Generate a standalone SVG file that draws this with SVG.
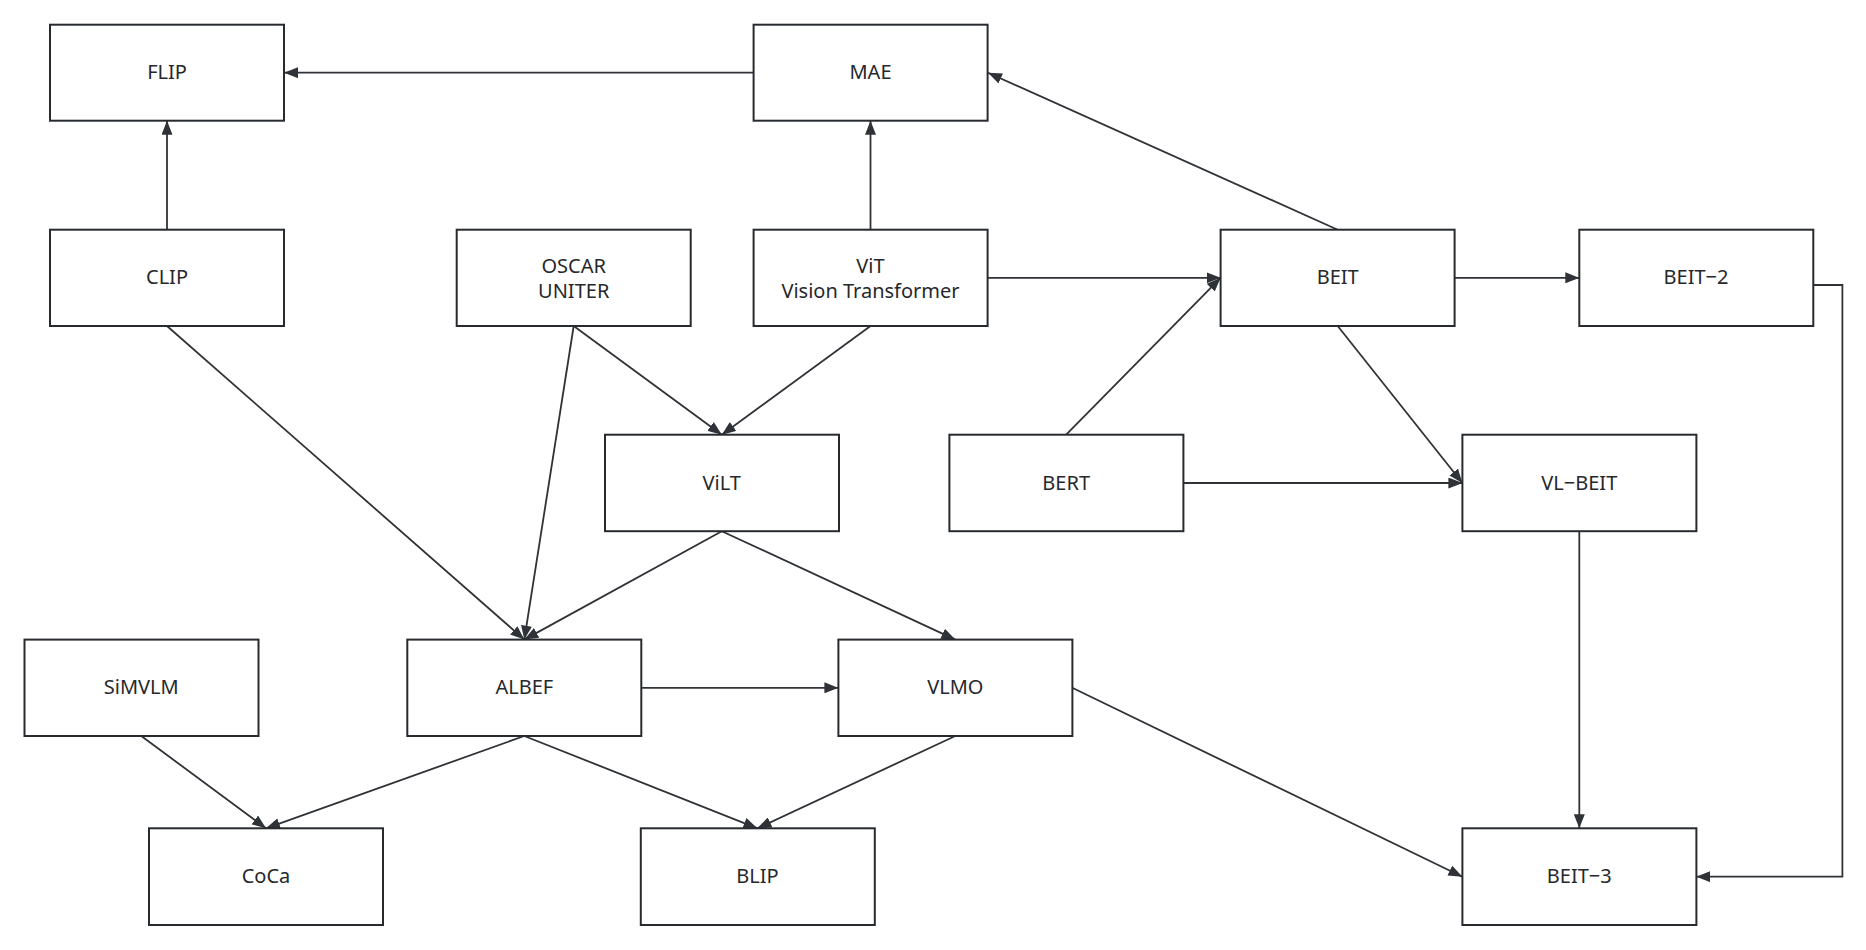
<svg xmlns="http://www.w3.org/2000/svg" width="1866" height="950" viewBox="0 0 1866 950">
  <defs>
    <marker id="arrow" viewBox="0 0 14 11" markerWidth="14" markerHeight="11" refX="14" refY="5.5" orient="auto" markerUnits="userSpaceOnUse">
      <path d="M0,0 L14,5.5 L0,11 z" fill="#2f3236"/>
    </marker>
    <style>
      .box { fill: #ffffff; stroke: #272b30; stroke-width: 2; }
      .label { font-family: "Noto Sans", "Liberation Sans", sans-serif; font-size: 20px; fill: #26282b; text-anchor: middle; }
      .edge { fill: none; stroke: #2f3236; stroke-width: 1.8; marker-end: url(#arrow); }
    </style>
  </defs>
  <rect width="1866" height="950" fill="#ffffff"/>

  <!-- connectors -->
  <g id="connectors">
    <line class="edge" x1="753.6" y1="72.7" x2="284" y2="72.7"/>
    <line class="edge" x1="167" y1="229.7" x2="167" y2="120.7"/>
    <line class="edge" x1="870.5" y1="229.7" x2="870.5" y2="120.7"/>
    <line class="edge" x1="1337.7" y1="229.7" x2="988" y2="72.7"/>
    <line class="edge" x1="987.3" y1="277.8" x2="1220.6" y2="277.8"/>
    <line class="edge" x1="1454.8" y1="277.8" x2="1579.3" y2="277.8"/>
    <line class="edge" x1="1066.2" y1="434.7" x2="1220.6" y2="277.8"/>
    <line class="edge" x1="1337.7" y1="326" x2="1462.4" y2="483"/>
    <line class="edge" x1="1183" y1="483" x2="1462.4" y2="483"/>
    <line class="edge" x1="1579.3" y1="531.2" x2="1579.3" y2="828.3"/>
    <polyline class="edge" points="1812.8,285 1842.4,285 1842.4,876.7 1696.3,876.7"/>
    <line class="edge" x1="573.7" y1="326" x2="721.8" y2="434.7"/>
    <line class="edge" x1="870.5" y1="326" x2="721.8" y2="434.7"/>
    <line class="edge" x1="167" y1="326" x2="524.3" y2="639.6"/>
    <line class="edge" x1="573.7" y1="326" x2="524.3" y2="639.6"/>
    <line class="edge" x1="721.8" y1="531.2" x2="524.3" y2="639.6"/>
    <line class="edge" x1="721.8" y1="531.2" x2="955.3" y2="639.6"/>
    <line class="edge" x1="641.2" y1="687.8" x2="838.4" y2="687.8"/>
    <line class="edge" x1="1072.2" y1="687.8" x2="1462.4" y2="876.7"/>
    <line class="edge" x1="141.3" y1="736" x2="266" y2="828.3"/>
    <line class="edge" x1="524.3" y1="736" x2="266" y2="828.3"/>
    <line class="edge" x1="524.3" y1="736" x2="757.4" y2="828.3"/>
    <line class="edge" x1="955.3" y1="736" x2="757.4" y2="828.3"/>
  </g>

  <!-- nodes -->
  <g id="node-flip"><rect class="box" x="50" y="24.7" width="234" height="96"/><text class="label" x="167" y="79">FLIP</text></g>
  <g id="node-mae"><rect class="box" x="753.6" y="24.7" width="234" height="96"/><text class="label" x="870.5" y="79">MAE</text></g>
  <g id="node-clip"><rect class="box" x="50" y="229.7" width="234" height="96.3"/><text class="label" x="167" y="284">CLIP</text></g>
  <g id="node-oscar"><rect class="box" x="456.7" y="229.7" width="234" height="96.3"/><text class="label" x="573.7" y="272.5">OSCAR</text><text class="label" x="573.7" y="297.5">UNITER</text></g>
  <g id="node-vit"><rect class="box" x="753.6" y="229.7" width="234" height="96.3"/><text class="label" x="870.5" y="272.5">ViT</text><text class="label" x="870.5" y="297.5">Vision Transformer</text></g>
  <g id="node-beit"><rect class="box" x="1220.6" y="229.7" width="234" height="96.3"/><text class="label" x="1337.7" y="284">BEIT</text></g>
  <g id="node-beit2"><rect class="box" x="1579.3" y="229.7" width="234" height="96.3"/><text class="label" x="1696" y="284">BEIT−2</text></g>
  <g id="node-vilt"><rect class="box" x="605" y="434.7" width="234" height="96.5"/><text class="label" x="721.8" y="489.5">ViLT</text></g>
  <g id="node-bert"><rect class="box" x="949.4" y="434.7" width="234" height="96.5"/><text class="label" x="1066.2" y="489.5">BERT</text></g>
  <g id="node-vlbeit"><rect class="box" x="1462.4" y="434.7" width="234" height="96.5"/><text class="label" x="1579.3" y="489.5">VL−BEIT</text></g>
  <g id="node-simvlm"><rect class="box" x="24.5" y="639.6" width="234" height="96.4"/><text class="label" x="141.3" y="694">SiMVLM</text></g>
  <g id="node-albef"><rect class="box" x="407.3" y="639.6" width="234" height="96.4"/><text class="label" x="524.3" y="694">ALBEF</text></g>
  <g id="node-vlmo"><rect class="box" x="838.4" y="639.6" width="234" height="96.4"/><text class="label" x="955.3" y="694">VLMO</text></g>
  <g id="node-coca"><rect class="box" x="149" y="828.3" width="234" height="96.7"/><text class="label" x="266" y="883">CoCa</text></g>
  <g id="node-blip"><rect class="box" x="640.8" y="828.3" width="234" height="96.7"/><text class="label" x="757.4" y="883">BLIP</text></g>
  <g id="node-beit3"><rect class="box" x="1462.4" y="828.3" width="234" height="96.7"/><text class="label" x="1579.3" y="883">BEIT−3</text></g>
</svg>
